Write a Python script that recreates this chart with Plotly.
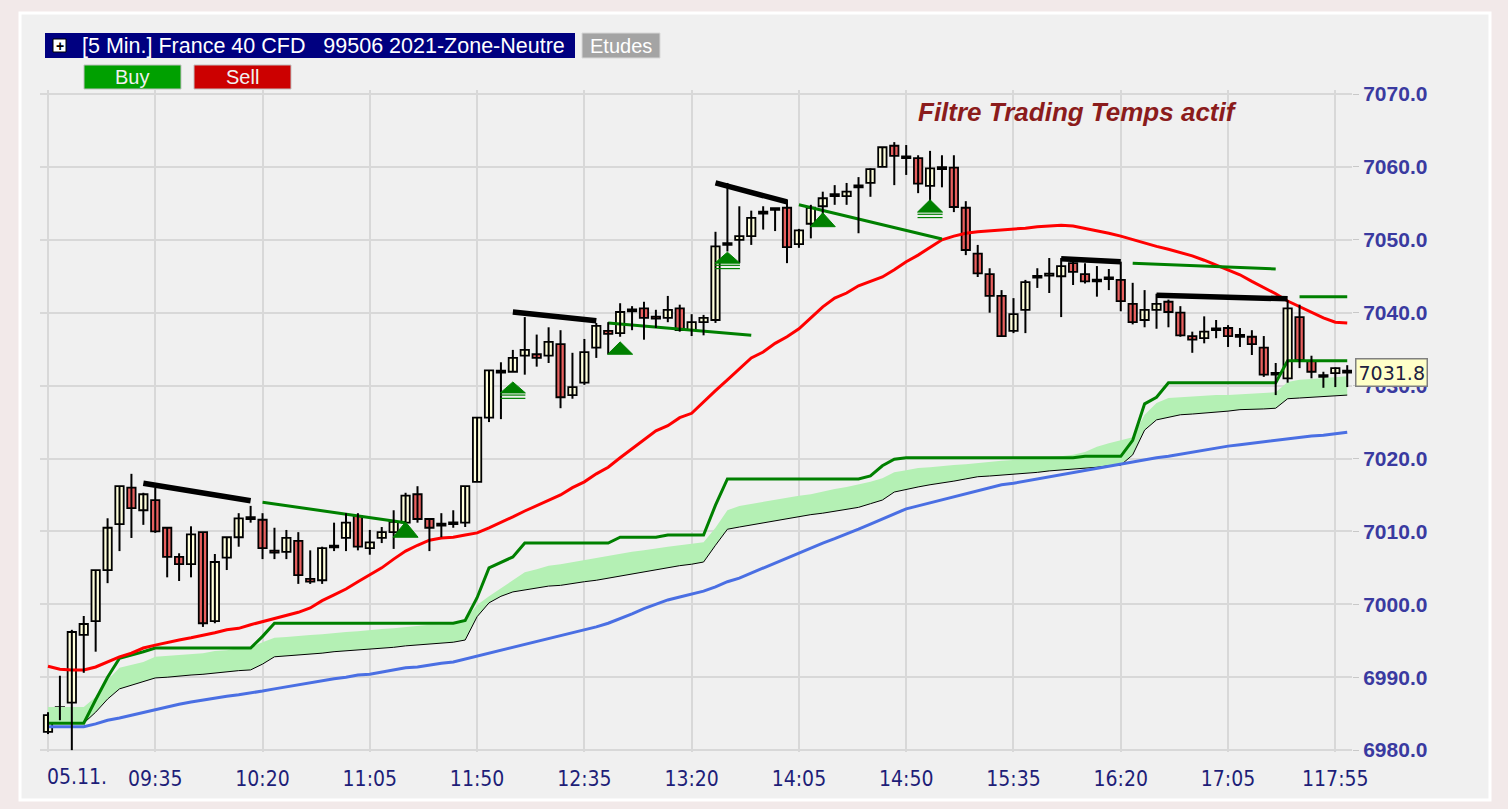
import plotly.graph_objects as go

# ---------------- data ----------------
opens = [6982.5, 6985.4, 6986.5, 6995.8, 6997.7, 7004.7, 7011.0, 7016.0, 7012.9, 7014.3,
         7010.5, 7006.5, 7005.5, 7009.9, 6997.7, 7006.4, 7009.2, 7011.9, 7011.6, 7007.3,
         7007.2, 7008.7, 7003.5, 7003.3, 7007.8, 7009.1, 7012.1, 7007.7, 7009.1, 7009.9,
         7011.2, 7015.1, 7011.7, 7010.8, 7011.0, 7011.2, 7016.8, 7025.6, 7031.8, 7031.9,
         7034.1, 7034.3, 7034.1, 7035.7, 7028.7, 7030.4, 7035.2, 7037.5, 7037.2, 7040.2,
         7040.6, 7039.4, 7039.3, 7040.6, 7037.6, 7038.7, 7039.0, 7049.3, 7050.0, 7050.5,
         7053.6, 7054.2, 7054.4, 7049.4, 7052.2, 7054.6, 7056.0, 7056.0, 7057.2, 7057.8,
         7060.0, 7062.9, 7061.4, 7061.2, 7057.4, 7059.7, 7059.9, 7054.4, 7048.1, 7045.3,
         7042.3, 7037.5, 7040.4, 7044.8, 7045.1, 7045.0, 7046.8, 7045.3, 7044.4, 7044.6,
         7044.5, 7041.2, 7039.0, 7040.4, 7041.5, 7040.0, 7036.8, 7036.5, 7037.6, 7037.9,
         7036.9, 7036.7, 7035.2, 7031.7, 7031.0, 7039.4, 7033.4, 7031.4, 7031.7, 7032.0]
highs = [6985.2, 6990.2, 6996.5, 6998.4, 7004.7, 7011.8, 7016.2, 7017.9, 7015.3, 7016.0,
         7010.5, 7007.0, 7010.7, 7009.9, 7006.9, 7009.2, 7012.5, 7013.5, 7012.5, 7010.5,
         7010.2, 7009.9, 7007.4, 7007.9, 7011.2, 7012.5, 7012.5, 7010.2, 7010.6, 7012.9,
         7015.3, 7016.2, 7011.8, 7012.5, 7012.9, 7016.2, 7025.7, 7032.1, 7033.2, 7034.9,
         7039.4, 7037.0, 7038.0, 7037.6, 7034.5, 7036.4, 7038.6, 7038.7, 7041.3, 7040.9,
         7041.5, 7040.4, 7042.3, 7041.1, 7039.8, 7039.7, 7051.1, 7057.8, 7054.6, 7054.0,
         7054.6, 7054.3, 7055.5, 7051.5, 7054.8, 7056.6, 7057.5, 7057.8, 7058.6, 7059.8,
         7062.7, 7063.4, 7063.0, 7061.6, 7062.2, 7061.6, 7061.6, 7055.3, 7049.3, 7046.1,
         7043.1, 7042.0, 7044.5, 7046.1, 7047.5, 7047.5, 7047.2, 7046.8, 7046.4, 7046.0,
         7047.0, 7044.1, 7043.1, 7042.6, 7041.8, 7040.9, 7037.4, 7039.5, 7039.0, 7038.3,
         7037.9, 7037.6, 7036.8, 7033.1, 7041.7, 7041.1, 7034.1, 7031.9, 7032.5, 7032.8]
lows = [6982.2, 6984.1, 6980.0, 6990.6, 6993.5, 7002.9, 7007.3, 7009.1, 7010.9, 7009.8,
        7003.7, 7003.2, 7003.7, 6996.9, 6997.4, 7004.7, 7007.9, 7011.2, 7006.2, 7006.2,
        7006.2, 7002.8, 7002.8, 7002.8, 7007.3, 7007.3, 7007.4, 7006.8, 7008.4, 7007.6,
        7011.2, 7011.2, 7007.3, 7009.2, 7010.5, 7010.6, 7016.8, 7025.0, 7025.4, 7031.9,
        7031.5, 7032.6, 7033.1, 7026.9, 7028.2, 7030.1, 7033.8, 7034.3, 7036.7, 7037.6,
        7036.3, 7037.9, 7038.7, 7037.4, 7036.8, 7036.9, 7038.6, 7048.4, 7046.8, 7049.3,
        7051.4, 7051.2, 7046.8, 7048.9, 7050.2, 7053.0, 7054.8, 7054.8, 7050.9, 7055.9,
        7060.0, 7057.5, 7058.9, 7056.4, 7055.2, 7057.2, 7053.8, 7047.9, 7044.9, 7040.0,
        7036.7, 7037.2, 7037.2, 7043.4, 7042.7, 7039.4, 7043.8, 7044.0, 7042.2, 7043.1,
        7040.2, 7038.4, 7038.0, 7037.8, 7038.0, 7036.7, 7034.5, 7035.8, 7036.5, 7035.3,
        7035.3, 7034.2, 7031.2, 7028.7, 7030.4, 7032.4, 7031.0, 7029.7, 7029.8, 7029.8]
closes = [6984.8, 6985.9, 6996.2, 6997.3, 7004.7, 7010.5, 7016.2, 7013.2, 7015.1, 7010.0,
          7006.5, 7005.5, 7009.6, 6997.4, 7005.8, 7009.2, 7011.8, 7011.7, 7007.7, 7007.1,
          7009.1, 7004.0, 7003.1, 7007.7, 7007.9, 7011.2, 7007.9, 7008.5, 7009.9, 7011.3,
          7014.9, 7011.7, 7010.5, 7010.9, 7011.1, 7016.2, 7025.6, 7032.1, 7031.9, 7033.8,
          7034.9, 7033.8, 7036.0, 7028.4, 7029.8, 7034.6, 7038.2, 7037.1, 7040.1, 7040.3,
          7039.3, 7039.2, 7040.4, 7037.6, 7038.7, 7039.3, 7049.1, 7049.5, 7050.5, 7053.0,
          7053.8, 7054.1, 7049.0, 7051.3, 7054.4, 7055.7, 7056.1, 7056.6, 7057.3, 7059.7,
          7062.7, 7061.5, 7061.2, 7057.7, 7059.8, 7059.8, 7054.5, 7048.6, 7045.4, 7042.3,
          7036.8, 7039.8, 7044.2, 7044.9, 7045.2, 7046.4, 7045.6, 7044.3, 7044.3, 7044.7,
          7041.6, 7038.7, 7040.4, 7041.2, 7040.1, 7036.9, 7036.3, 7037.4, 7037.7, 7036.8,
          7036.7, 7035.7, 7031.5, 7031.5, 7040.6, 7033.5, 7031.9, 7031.2, 7032.4, 7031.8]

red_ma = [6991.5, 6991.1, 6991.0, 6991.0, 6991.4, 6992.1, 6992.8, 6993.3, 6994.0, 6994.4,
          6994.8, 6995.1, 6995.4, 6995.7, 6996.1, 6996.5, 6996.7, 6997.2, 6997.6, 6998.0,
          6998.4, 6998.9, 6999.5, 7000.5, 7001.3, 7002.1, 7003.1, 7004.0, 7005.0, 7006.2,
          7007.3, 7008.1, 7008.8, 7009.1, 7009.2, 7009.5, 7009.8, 7010.5, 7011.2, 7012.0,
          7012.8, 7013.5, 7014.2, 7015.0, 7016.0, 7016.8, 7017.9, 7018.8, 7020.1, 7021.3,
          7022.5, 7023.8, 7024.5, 7025.6, 7026.2, 7027.8, 7029.3, 7030.8, 7032.3, 7033.8,
          7034.6, 7035.8, 7036.7, 7037.8, 7039.3, 7040.8, 7042.0, 7042.7, 7043.7, 7044.3,
          7044.9, 7045.9, 7047.0, 7047.9, 7049.0, 7050.0, 7050.5, 7050.9, 7051.1, 7051.2,
          7051.3, 7051.5, 7051.6, 7051.8, 7051.9, 7052.0, 7051.9, 7051.6, 7051.3, 7050.9,
          7050.5, 7050.0, 7049.6, 7049.1, 7048.7, 7048.3, 7047.8, 7047.2, 7046.5, 7045.9,
          7045.2, 7044.3, 7043.5, 7042.6, 7041.6, 7040.8, 7040.0, 7039.3, 7038.7, 7038.6]

blue_ma = [6983.2, 6983.2, 6983.2, 6983.2, 6983.6, 6984.1, 6984.4, 6984.8, 6985.2, 6985.6,
           6986.0, 6986.3, 6986.6, 6986.9, 6987.1, 6987.4, 6987.6, 6987.8, 6988.1, 6988.4,
           6988.7, 6988.9, 6989.2, 6989.5, 6989.8, 6990.0, 6990.3, 6990.4, 6990.7, 6991.0,
           6991.3, 6991.4, 6991.7, 6991.9, 6992.1, 6992.5, 6992.8, 6993.2, 6993.6, 6994.0,
           6994.4, 6994.8, 6995.2, 6995.7, 6996.1, 6996.5, 6996.9, 6997.4, 6998.0, 6998.7,
           6999.4, 7000.0, 7000.6, 7001.0, 7001.4, 7001.8, 7002.4, 7003.1, 7003.6, 7004.3,
           7005.0, 7005.7, 7006.4, 7007.0, 7007.7, 7008.4, 7009.0, 7009.6, 7010.3, 7011.0,
           7011.7, 7012.4, 7013.1, 7013.5, 7013.9, 7014.3, 7014.7, 7015.1, 7015.5, 7016.0,
           7016.4, 7016.6, 7016.9, 7017.2, 7017.5, 7017.7, 7018.1, 7018.4, 7018.7, 7019.0,
           7019.2, 7019.5, 7019.8, 7020.1, 7020.3, 7020.6, 7020.9, 7021.2, 7021.4, 7021.7,
           7021.9, 7022.1, 7022.3, 7022.5, 7022.7, 7023.0, 7023.1, 7023.2, 7023.4, 7023.6]

trail_stop = [6983.7, 6983.7, 6983.7, 6983.7, 6986.9, 6990.0, 6992.6, 6993.0, 6993.5, 6994.0,
              6994.0, 6994.0, 6994.0, 6994.0, 6994.0, 6994.0, 6994.0, 6994.0, 6995.6, 6997.4,
              6997.4, 6997.4, 6997.4, 6997.4, 6997.4, 6997.4, 6997.4, 6997.4, 6997.4, 6997.4,
              6997.4, 6997.4, 6997.4, 6997.4, 6997.4, 6997.8, 7000.9, 7005.0, 7005.7, 7006.5,
              7008.4, 7008.4, 7008.4, 7008.4, 7008.4, 7008.4, 7008.4, 7008.4, 7009.2, 7009.2,
              7009.2, 7009.2, 7009.5, 7009.5, 7009.5, 7009.5, 7013.6, 7017.2, 7017.2, 7017.2,
              7017.2, 7017.2, 7017.2, 7017.2, 7017.2, 7017.2, 7017.2, 7017.2, 7017.2, 7017.6,
              7019.0, 7019.9, 7020.1, 7020.1, 7020.1, 7020.1, 7020.1, 7020.1, 7020.1, 7020.1,
              7020.1, 7020.1, 7020.1, 7020.1, 7020.1, 7020.1, 7020.1, 7020.3, 7020.3, 7020.3,
              7020.3, 7022.5, 7027.5, 7028.4, 7030.4, 7030.4, 7030.4, 7030.4, 7030.4, 7030.4,
              7030.4, 7030.4, 7030.4, 7030.4, 7033.4, 7033.4, 7033.4, 7033.4, 7033.4, 7033.4]

band_upper = [6985.9, 6985.9, 6985.9, 6985.9, 6987.3, 6989.6, 6991.3, 6991.7, 6992.1, 6992.8,
              6992.9, 6993.0, 6993.2, 6993.3, 6993.6, 6993.7, 6994.0, 6994.1, 6994.8, 6995.4,
              6995.5, 6995.7, 6995.8, 6995.9, 6996.1, 6996.2, 6996.3, 6996.5, 6996.6, 6996.7,
              6996.9, 6997.0, 6997.2, 6997.2, 6997.3, 6997.8, 6999.9, 7001.1, 7002.2, 7003.3,
              7004.4, 7004.8, 7005.3, 7005.5, 7005.8, 7006.1, 7006.4, 7006.6, 7006.9, 7007.2,
              7007.4, 7007.7, 7007.9, 7008.1, 7008.3, 7008.5, 7010.5, 7012.9, 7013.5, 7013.8,
              7014.0, 7014.3, 7014.6, 7014.9, 7015.1, 7015.5, 7015.8, 7016.1, 7016.4, 7016.8,
              7017.3, 7018.1, 7018.4, 7018.7, 7018.8, 7019.0, 7019.1, 7019.2, 7019.4, 7019.5,
              7019.7, 7019.8, 7019.9, 7020.1, 7020.2, 7020.3, 7020.5, 7020.9, 7021.6, 7022.1,
              7022.5, 7022.9, 7026.0, 7027.6, 7028.3, 7028.4, 7028.6, 7028.6, 7028.7, 7028.7,
              7028.8, 7028.8, 7029.0, 7029.1, 7030.5, 7030.8, 7030.9, 7031.0, 7031.2, 7031.3]

band_lower = [6983.7, 6983.7, 6983.7, 6983.7, 6985.2, 6987.0, 6988.4, 6988.9, 6989.5, 6989.9,
              6990.0, 6990.2, 6990.3, 6990.4, 6990.6, 6990.7, 6990.9, 6991.0, 6991.8, 6992.8,
              6992.9, 6993.0, 6993.2, 6993.3, 6993.5, 6993.6, 6993.7, 6993.9, 6994.0, 6994.1,
              6994.3, 6994.4, 6994.6, 6994.7, 6994.8, 6995.1, 6998.3, 7000.2, 7001.1, 7001.7,
              7002.0, 7002.2, 7002.5, 7002.6, 7002.9, 7003.1, 7003.3, 7003.6, 7003.9, 7004.2,
              7004.4, 7004.7, 7005.0, 7005.3, 7005.5, 7005.8, 7008.1, 7010.3, 7010.6, 7010.9,
              7011.2, 7011.4, 7011.7, 7012.0, 7012.3, 7012.5, 7012.8, 7013.1, 7013.3, 7013.8,
              7014.3, 7015.4, 7015.8, 7016.1, 7016.4, 7016.6, 7016.9, 7017.2, 7017.5, 7017.6,
              7017.7, 7017.9, 7018.0, 7018.1, 7018.3, 7018.4, 7018.6, 7018.7, 7018.8, 7019.0,
              7019.1, 7020.5, 7023.9, 7025.3, 7025.7, 7026.0, 7026.1, 7026.2, 7026.4, 7026.5,
              7026.7, 7026.7, 7026.8, 7026.9, 7028.2, 7028.3, 7028.4, 7028.4, 7028.6, 7028.7]

# resistance segments (black) and their continuation (green), as bar index / price
res_start_bar = [8, 39, 56, 85, 93]
res_end_bar = [17, 46, 62, 90, 104]
res_start_val = [7016.6, 7040.1, 7057.8, 7047.4, 7042.4]
res_end_val = [7014.2, 7038.9, 7055.2, 7047.0, 7041.9]
ext_start_bar = [18, 47, 63, 91, 105]
ext_end_bar = [30, 59, 75, 103, 109]
ext_start_val = [7014.0, 7038.6, 7054.8, 7046.8, 7042.2]
ext_end_val = [7011.2, 7036.9, 7050.1, 7046.0, 7042.2]

# buy signals
sig_bar = [30, 39, 48, 57, 65, 74]
sig_apex = [7011.3, 7030.5, 7036.0, 7048.3, 7053.7, 7055.5]
sig_base = [7009.2, 7029.0, 7034.3, 7046.8, 7051.8, 7053.8]
sig_underline = [False, True, False, True, False, True]

tick_bars = [0, 9, 18, 27, 36, 45, 54, 63, 72, 81, 90, 99, 108]
tick_labels = ["", "09:35", "10:20", "11:05", "11:50", "12:35", "13:20",
               "14:05", "14:50", "15:35", "16:20", "17:05", "117:55"]
date_label = "05.11."
y_ticks = [6980, 6990, 7000, 7010, 7020, 7030, 7040, 7050, 7060, 7070]
last_price = 7031.8

# ---------------- figure ----------------
W, H = 1508, 809
ML, MR, MT, MB = 40, 156, 90, 57
PW, PH = W - ML - MR, H - MT - MB


def px(x):
    return (x - ML) / PW


def py(y):
    return (H - MB - y) / PH


n = len(opens)
idx = list(range(n))
fig = go.Figure()

# band (light green fill) with thin black lower edge
fig.add_trace(go.Scatter(x=idx, y=band_lower, mode="lines",
                         line=dict(color="black", width=1), hoverinfo="skip"))
fig.add_trace(go.Scatter(x=idx, y=band_upper, mode="lines", fill="tonexty",
                         fillcolor="#B4F0B4", line=dict(color="rgba(0,0,0,0)", width=0),
                         hoverinfo="skip"))
# blue, trailing green, red
fig.add_trace(go.Scatter(x=idx, y=blue_ma, mode="lines",
                         line=dict(color="#4A6FE3", width=3), hoverinfo="skip"))
fig.add_trace(go.Scatter(x=idx, y=trail_stop, mode="lines",
                         line=dict(color="#008000", width=3), hoverinfo="skip"))
fig.add_trace(go.Scatter(x=idx, y=red_ma, mode="lines",
                         line=dict(color="#FF0000", width=3), hoverinfo="skip"))

# green continuation segments
for s, e, v0, v1 in zip(ext_start_bar, ext_end_bar, ext_start_val, ext_end_val):
    fig.add_trace(go.Scatter(x=[s, e], y=[v0, v1], mode="lines",
                             line=dict(color="#008000", width=3), hoverinfo="skip"))

# candles: wicks then bodies
wx, wy = [], []
for i in idx:
    wx += [i, i, None]
    wy += [lows[i], highs[i], None]
fig.add_trace(go.Scatter(x=wx, y=wy, mode="lines", line=dict(color="black", width=2),
                         hoverinfo="skip"))
body_base = [min(o, c) for o, c in zip(opens, closes)]
body_h = [max(abs(c - o), 0.25) for o, c in zip(opens, closes)]
body_col = ["#FFFFDC" if c >= o else "#E8605F" for o, c in zip(opens, closes)]
fig.add_trace(go.Bar(x=idx, y=body_h, base=body_base, width=0.7,
                     marker=dict(color=body_col, line=dict(color="black", width=1.8)),
                     hoverinfo="skip"))

# black resistance segments
for s, e, v0, v1 in zip(res_start_bar, res_end_bar, res_start_val, res_end_val):
    fig.add_trace(go.Scatter(x=[s, e], y=[v0, v1], mode="lines",
                             line=dict(color="black", width=5.5), hoverinfo="skip"))

# buy triangles
for b, a, bs, u in zip(sig_bar, sig_apex, sig_base, sig_underline):
    fig.add_trace(go.Scatter(x=[b - 1.05, b + 1.05, b, b - 1.05], y=[bs, bs, a, bs],
                             mode="lines", fill="toself", fillcolor="#008000",
                             line=dict(color="#008000", width=1), hoverinfo="skip"))
    if u:
        for off in (0.3, 0.75):
            fig.add_trace(go.Scatter(x=[b - 1.05, b + 1.05], y=[bs - off, bs - off],
                                     mode="lines", line=dict(color="#008000", width=1.2),
                                     hoverinfo="skip"))

shapes = []
annotations = []
# outer panel
shapes.append(dict(type="rect", xref="paper", yref="paper", x0=px(20), x1=px(1490),
                   y0=py(800), y1=py(13), fillcolor="#F0F0F0",
                   line=dict(color="#FFFFFF", width=3), layer="below"))
# header bar
shapes.append(dict(type="rect", xref="paper", yref="paper", x0=px(45), x1=px(575),
                   y0=py(58), y1=py(33), fillcolor="#000080", line=dict(width=0)))
shapes.append(dict(type="rect", xref="paper", yref="paper", x0=px(53), x1=px(66),
                   y0=py(52), y1=py(39), fillcolor="#FFFFFF",
                   line=dict(color="black", width=1)))
shapes.append(dict(type="rect", xref="paper", yref="paper", x0=px(582), x1=px(660),
                   y0=py(58), y1=py(33), fillcolor="#A4A4A4",
                   line=dict(color="#D8D8D8", width=1)))
shapes.append(dict(type="rect", xref="paper", yref="paper", x0=px(84), x1=px(181),
                   y0=py(89), y1=py(65), fillcolor="#00A000",
                   line=dict(color="#C0C0C0", width=1)))
shapes.append(dict(type="rect", xref="paper", yref="paper", x0=px(194), x1=px(291),
                   y0=py(89), y1=py(65), fillcolor="#CC0000",
                   line=dict(color="#C0C0C0", width=1)))

font_main = "Liberation Sans, Arial, sans-serif"
font_narrow = "Liberation Sans Narrow, DejaVu Sans Condensed, sans-serif"
annotations.append(dict(xref="paper", yref="paper", x=px(59.5), y=py(45.5), text="<b>+</b>",
                        showarrow=False, font=dict(family=font_main, size=14, color="black"),
                        xanchor="center", yanchor="middle"))
annotations.append(dict(xref="paper", yref="paper", x=px(80), y=py(45.5),
                        text="[5 Min.] France 40 CFD\u00a0\u00a0\u00a099506 2021-Zone-Neutre",
                        showarrow=False, font=dict(family=font_main, size=21.5, color="white"),
                        xanchor="left", yanchor="middle"))
annotations.append(dict(xref="paper", yref="paper", x=px(621), y=py(45.5), text="Etudes",
                        showarrow=False, font=dict(family=font_main, size=20, color="white"),
                        xanchor="center", yanchor="middle"))
annotations.append(dict(xref="paper", yref="paper", x=px(132), y=py(77), text="Buy",
                        showarrow=False, font=dict(family=font_main, size=20, color="#F0F0F0"),
                        xanchor="center", yanchor="middle"))
annotations.append(dict(xref="paper", yref="paper", x=px(242), y=py(77), text="Sell",
                        showarrow=False, font=dict(family=font_main, size=20, color="#F0F0F0"),
                        xanchor="center", yanchor="middle"))
annotations.append(dict(xref="paper", yref="paper", x=px(1077), y=py(112),
                        text="<b><i>Filtre Trading Temps actif</i></b>",
                        showarrow=False, font=dict(family=font_main, size=26, color="#8B1C1C"),
                        xanchor="center", yanchor="middle"))
annotations.append(dict(xref="x", yref="paper", x=0, xshift=-3, y=py(777), text=date_label,
                        showarrow=False, xanchor="left", yanchor="middle",
                        font=dict(family=font_narrow, size=21, color="#1E1E78")))
annotations.append(dict(xref="paper", yref="y", x=1, xshift=3, y=last_price,
                        text=f"{last_price:.1f}", showarrow=False, xanchor="left",
                        yanchor="middle", bgcolor="#FFFFC8", bordercolor="#808080",
                        borderwidth=1.5, borderpad=2,
                        font=dict(family="DejaVu Sans, sans-serif", size=19, color="#202040")))

fig.update_layout(
    width=W, height=H,
    margin=dict(l=ML, r=MR, t=MT, b=MB, pad=0),
    paper_bgcolor="#F2E9E9",
    plot_bgcolor="#F0F0F0",
    showlegend=False,
    barmode="overlay",
    shapes=shapes,
    annotations=annotations,
    xaxis=dict(range=[-0.67, 109.4], tickvals=tick_bars, ticktext=tick_labels,
               showgrid=True, gridcolor="#D8D8D8", gridwidth=2, zeroline=False,
               showline=False, ticks="", ticklabelstandoff=12,
               tickfont=dict(family=font_narrow, size=21, color="#1E1E78")),
    yaxis=dict(range=[6979.74, 7070.55], side="right", tickvals=y_ticks,
               ticktext=[f"{v:.1f}" for v in y_ticks],
               showgrid=True, gridcolor="#D8D8D8", gridwidth=2, zeroline=False,
               showline=False, ticks="outside", ticklen=6, tickcolor="#C8C8C8",
               tickfont=dict(family=font_main, size=21, color="#3A3AA0", weight="bold")),
)

fig.write_html("out.html", config={"displayModeBar": False},
               post_script="document.body.style.margin='0px';document.body.style.overflow='hidden';")
